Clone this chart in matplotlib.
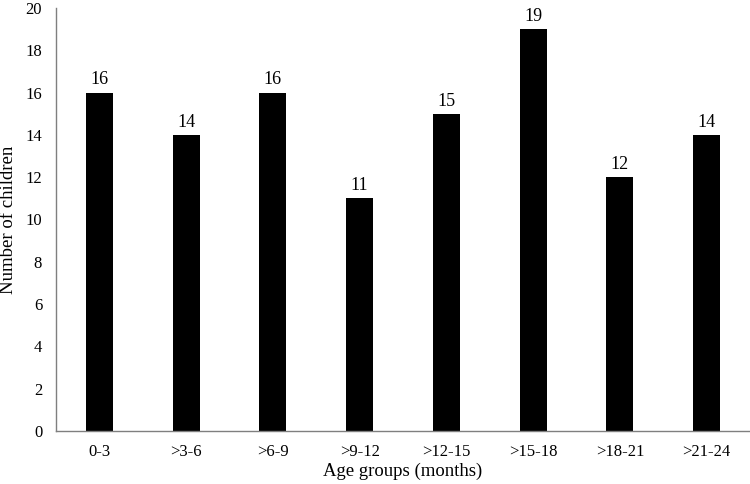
import numpy as np
import matplotlib
matplotlib.use('Agg')
import matplotlib.pyplot as plt

# age group categories and counts
age_groups = ['0-3', '>3-6', '>6-9', '>9-12', '>12-15', '>15-18', '>18-21', '>21-24']
n_children = [16, 14, 16, 11, 15, 19, 12, 14]

plt.rcParams['font.family'] = ['Liberation Serif', 'DejaVu Serif']

fig = plt.figure(figsize=(7.5, 4.84), dpi=100)
ax = fig.add_axes([0.0747, 0.1095, 0.9253, 0.874])

x = np.arange(len(age_groups))
ax.bar(x, n_children, width=0.31, color='black')
for xi, v in zip(x, n_children):
    ax.annotate(str(v), (xi, v), xytext=(0, 3), textcoords='offset points',
                ha='center', va='bottom', fontsize=13)

ax.set_xlim(-0.5, len(age_groups) - 0.5)
ax.set_ylim(0, 20)
ax.set_yticks(range(0, 21, 2))
ax.set_xticks(x)
ax.set_xticklabels(age_groups)
ax.tick_params(axis='both', length=0, labelsize=12)
ax.tick_params(axis='x', pad=9)
ax.tick_params(axis='y', pad=10)

for s in ['top', 'right']:
    ax.spines[s].set_visible(False)
for s in ['left', 'bottom']:
    ax.spines[s].set_color('#7f7f7f')
    ax.spines[s].set_linewidth(1.0)

ax.set_xlabel('Age groups (months)', fontsize=13.5, labelpad=2)
ax.set_ylabel('Number of children', fontsize=13.5, labelpad=6)

fig.savefig('out.png', dpi=100)
